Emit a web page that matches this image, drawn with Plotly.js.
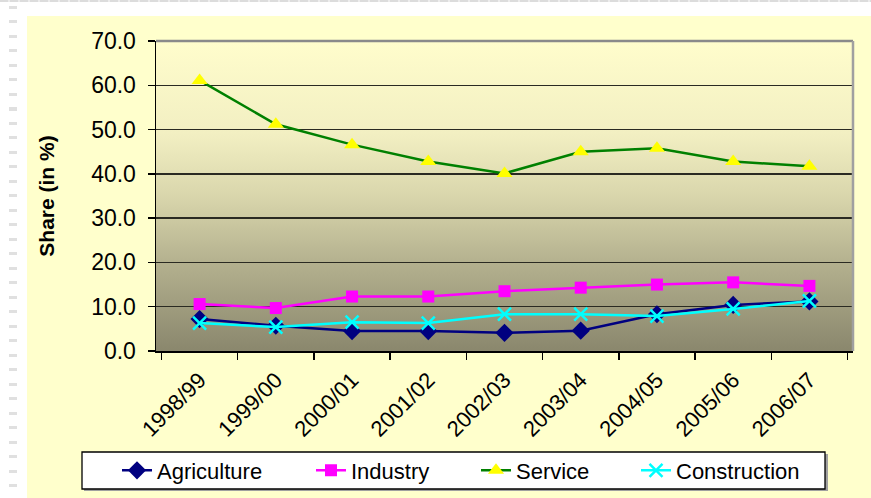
<!DOCTYPE html>
<html>
<head>
<meta charset="utf-8">
<script src="https://cdn.plot.ly/plotly-3.0.1.min.js"></script>
<style>
  html, body { margin: 0; padding: 0; background: #ffffff; }
  #wrap { position: relative; width: 871px; height: 498px; overflow: hidden; background: #ffffff; }
  #topline { position: absolute; left: 0; top: 0; width: 871px; height: 2px;
    background: repeating-linear-gradient(to right, #dcdcdc 0 8px, #ececec 8px 10px); }
  #leftdash { position: absolute; left: 9px; top: 6px; width: 8px; height: 492px;
    background: repeating-linear-gradient(to bottom, #e0e0e0 0 3px, transparent 3px 14.5px); }
  #yellow { position: absolute; left: 27px; top: 16px; right: 0; bottom: 0; background: #FFFFCC; }
  #chart { position: absolute; left: 0; top: 0; width: 871px; height: 498px; }
</style>
</head>
<body>
<div id="wrap">
  <div id="topline"></div>
  <div id="leftdash"></div>
  <div id="yellow"></div>
  <div id="chart"></div>
</div>
<script>
const years = ["1998/99","1999/00","2000/01","2001/02","2002/03","2003/04","2004/05","2005/06","2006/07"];
const agriculture  = [7.2, 5.7, 4.5, 4.5, 4.1, 4.6, 8.3, 10.4, 11.2];
const industry     = [10.6, 9.7, 12.3, 12.3, 13.5, 14.3, 15.0, 15.5, 14.7];
const service      = [61.1, 51.2, 46.6, 42.8, 40.1, 45.0, 45.8, 42.8, 41.7];
const construction = [6.3, 5.4, 6.5, 6.3, 8.3, 8.3, 7.9, 9.5, 11.3];
const yTicks = [0, 10, 20, 30, 40, 50, 60, 70];

const bgSvg = '<svg xmlns="http://www.w3.org/2000/svg" width="100" height="100" preserveAspectRatio="none">' +
  '<defs><linearGradient id="g" x1="0" y1="0" x2="0" y2="1">' +
  '<stop offset="0" stop-color="#FFFDCC"/>' +
  '<stop offset="0.3" stop-color="#F2EFC2"/>' +
  '<stop offset="0.5" stop-color="#D9D6AC"/>' +
  '<stop offset="0.72" stop-color="#B3B08E"/>' +
  '<stop offset="1" stop-color="#8A876D"/>' +
  '</linearGradient></defs><rect x="0" y="0" width="100" height="100" fill="url(#g)"/></svg>';
const bgUri = 'data:image/svg+xml;base64,' + btoa(bgSvg);

const font = 'Liberation Sans, Arial, sans-serif';

const traces = [
  { name: 'Agriculture', x: years, y: agriculture, type: 'scatter', mode: 'lines+markers', legend: 'legend',
    line: { color: '#000080', width: 2.5 },
    marker: { symbol: 'diamond', size: 14, color: '#000080' } },
  { name: 'Industry', x: years, y: industry, type: 'scatter', mode: 'lines+markers', legend: 'legend2',
    line: { color: '#FF00FF', width: 2.5 },
    marker: { symbol: 'square', size: 12, color: '#FF00FF' } },
  { name: 'Service', x: years, y: service, type: 'scatter', mode: 'lines+markers', legend: 'legend3',
    line: { color: '#008000', width: 2.5 },
    marker: { symbol: 'triangle-up', size: 14, color: '#FFFF00' } },
  { name: 'Construction', x: years, y: construction, type: 'scatter', mode: 'lines+markers', legend: 'legend4',
    line: { color: '#00FFFF', width: 2.5 },
    marker: { symbol: 'x-thin', size: 13, color: '#00FFFF', line: { color: '#00FFFF', width: 2.5 } } }
];

function leg(px) {
  return {
    orientation: 'h', xref: 'container', yref: 'container',
    x: px / 871, xanchor: 'left', y: 1 - 470.5 / 498, yanchor: 'middle',
    bgcolor: 'rgba(0,0,0,0)', borderwidth: 0,
    font: { size: 22, family: font, color: '#000' }
  };
}

const layout = {
  width: 871, height: 498,
  paper_bgcolor: 'rgba(0,0,0,0)',
  plot_bgcolor: 'rgba(0,0,0,0)',
  margin: { l: 156, r: 18, t: 41, b: 147, autoexpand: false },
  font: { family: font, color: '#000000' },
  showlegend: true,
  images: [{ source: bgUri, xref: 'paper', yref: 'paper', x: 0, y: 1, sizex: 1, sizey: 1,
    sizing: 'stretch', xanchor: 'left', yanchor: 'top', layer: 'below' }],
  xaxis: {
    type: 'category', categoryorder: 'array', categoryarray: years,
    tickangle: -45, tickfont: { size: 22, family: font }, ticklabelstandoff: 6,
    ticks: 'outside', tickson: 'boundaries', ticklen: 7, tickcolor: '#000', tickwidth: 1.5,
    showline: true, linecolor: '#000', linewidth: 1.5,
    showgrid: false, zeroline: false, automargin: false, fixedrange: true
  },
  yaxis: {
    range: [0, 70], tickvals: yTicks, tickformat: '.1f',
    tickfont: { size: 23, family: font },
    ticks: 'outside', ticklen: 7, tickcolor: '#000', tickwidth: 1.5, ticklabelstandoff: 7,
    showline: true, linecolor: '#000', linewidth: 1.5,
    showgrid: true, gridcolor: '#2a2a22', gridwidth: 1.3, zeroline: false,
    title: { text: '<b>Share (in %)</b>', font: { size: 21, family: font }, standoff: 31 },
    automargin: false, fixedrange: true
  },
  legend: leg(117),
  legend2: leg(311),
  legend3: leg(476),
  legend4: leg(636),
  shapes: [
    { type: 'line', xref: 'paper', yref: 'paper', x0: 0, x1: 1, y0: 1, y1: 1, line: { color: '#8a8a8a', width: 2.5 } },
    { type: 'line', xref: 'paper', yref: 'paper', x0: 1, x1: 1, y0: 0, y1: 1, line: { color: '#a0a0a0', width: 2.5 } },
    { type: 'rect', xref: 'paper', yref: 'paper', layer: 'below',
      x0: (84 - 156) / 697, x1: (828 - 156) / 697, y0: (351 - 454) / 310, y1: (351 - 491) / 310,
      fillcolor: '#a0a0a0', line: { width: 0 } },
    { type: 'rect', xref: 'paper', yref: 'paper', layer: 'below',
      x0: (82 - 156) / 697, x1: (825 - 156) / 697, y0: (351 - 452) / 310, y1: (351 - 489) / 310,
      fillcolor: '#FFFFFF', line: { color: '#000', width: 1.3 } }
  ]
};

Plotly.newPlot('chart', traces, layout, { displayModeBar: false, staticPlot: true });
</script>
</body>
</html>
